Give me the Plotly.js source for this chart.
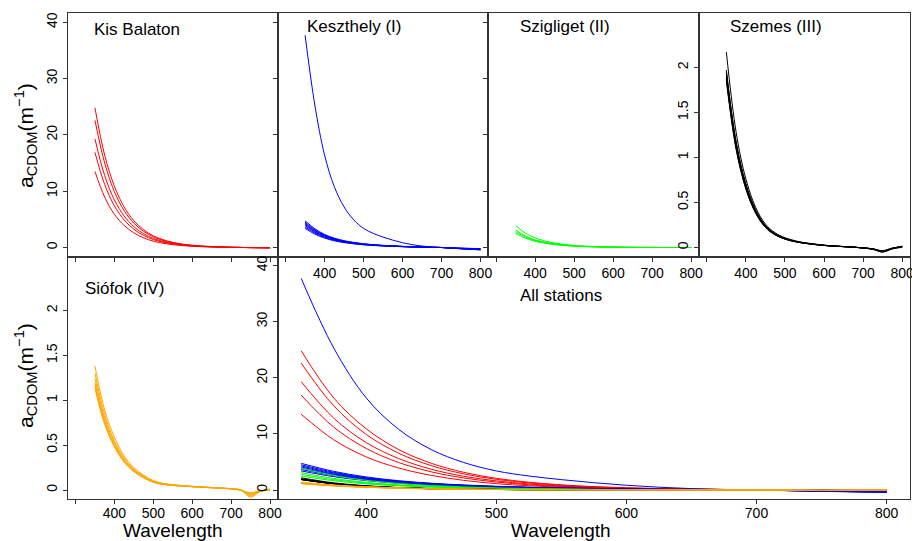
<!DOCTYPE html>
<html><head><meta charset="utf-8">
<script src="https://cdn.plot.ly/plotly-3.0.1.min.js"></script>
<style>html,body{margin:0;padding:0;background:#fff}#chart{width:912px;height:541px}</style>
</head><body><div id="chart"></div>
<script>
// Wavelength grid (nm)
const wavelength = [350,375,400,425,450,475,500,525,550,575,600,625,650,675,700,725,750,775,800];

// a_CDOM (m^-1) curves
const kisBalaton = [
  [24.8,16.4,10.9,7.2,4.76,3.15,2.08,1.39,0.92,0.6,0.4,0.26,0.17,0.1,0.05,0.02,-0.02,-0.05,-0.07],
  [22.6,15.0,9.9,6.55,4.34,2.87,1.9,1.26,0.84,0.55,0.36,0.23,0.15,0.09,0.04,0.01,-0.02,-0.05,-0.07],
  [19.3,12.8,8.45,5.6,3.7,2.45,1.62,1.08,0.71,0.47,0.31,0.2,0.13,0.08,0.04,0.01,-0.02,-0.04,-0.06],
  [16.9,11.2,7.4,4.9,3.24,2.15,1.42,0.94,0.63,0.41,0.27,0.18,0.11,0.07,0.03,0.01,-0.02,-0.04,-0.05],
  [13.5,8.95,5.9,3.92,2.6,1.72,1.13,0.75,0.5,0.33,0.22,0.14,0.09,0.05,0.02,0.0,-0.02,-0.03,-0.04]
];
const keszthely = [
  [37.7,25.3,16.4,10.8,7.2,4.9,3.4,2.5,1.85,1.3,0.85,0.5,0.25,0.1,0.0,-0.1,-0.2,-0.28,-0.35],
  [4.75,3.33,2.33,1.66,1.21,0.9,0.67,0.5,0.38,0.29,0.2,0.13,0.08,0.03,0.0,-0.12,-0.24,-0.33,-0.43],
  [4.5,3.15,2.2,1.58,1.15,0.86,0.63,0.47,0.36,0.27,0.19,0.13,0.07,0.03,0.0,-0.11,-0.22,-0.31,-0.4],
  [4.3,3.01,2.11,1.5,1.1,0.82,0.6,0.45,0.34,0.26,0.18,0.12,0.07,0.03,0.0,-0.1,-0.2,-0.29,-0.37],
  [4.1,2.87,2.01,1.44,1.05,0.78,0.57,0.43,0.33,0.25,0.17,0.11,0.07,0.03,0.0,-0.09,-0.17,-0.24,-0.31],
  [3.9,2.73,1.91,1.37,0.99,0.74,0.55,0.41,0.31,0.23,0.16,0.11,0.06,0.03,0.0,-0.08,-0.15,-0.22,-0.28],
  [3.65,2.56,1.79,1.28,0.93,0.69,0.51,0.38,0.29,0.22,0.15,0.1,0.06,0.03,0.0,-0.07,-0.13,-0.19,-0.24],
  [3.4,2.38,1.67,1.19,0.87,0.65,0.48,0.36,0.27,0.2,0.14,0.1,0.05,0.02,0.0,-0.06,-0.11,-0.16,-0.2]
];
const szigliget = [
  [3.9,2.57,1.72,1.17,0.8,0.55,0.37,0.25,0.18,0.12,0.08,0.05,0.03,0.02,0.01,0.0,0.0,0.0,0.0],
  [3.1,2.05,1.36,0.93,0.64,0.43,0.29,0.2,0.14,0.09,0.06,0.04,0.025,0.015,0.01,0.0,0.0,0.0,0.0],
  [2.8,1.85,1.23,0.84,0.57,0.39,0.27,0.18,0.13,0.08,0.06,0.04,0.02,0.01,0.01,0.0,0.0,0.0,0.0],
  [2.5,1.65,1.1,0.75,0.51,0.35,0.24,0.16,0.11,0.075,0.05,0.03,0.02,0.01,0.01,0.0,0.0,0.0,0.0]
];
const szemes = [
  [2.17,1.28,0.76,0.445,0.26,0.163,0.109,0.076,0.054,0.039,0.026,0.017,0.011,0.004,-0.005,-0.015,-0.04,-0.01,0.01],
  [1.97,1.16,0.69,0.4,0.236,0.148,0.099,0.069,0.049,0.035,0.024,0.016,0.01,0.004,-0.005,-0.02,-0.05,-0.015,0.01],
  [1.95,1.18,0.71,0.42,0.245,0.152,0.1,0.07,0.05,0.036,0.024,0.016,0.01,0.004,-0.005,-0.018,-0.05,-0.012,0.008],
  [1.93,1.14,0.675,0.396,0.232,0.145,0.097,0.068,0.048,0.035,0.023,0.015,0.01,0.004,-0.005,-0.015,-0.045,-0.01,0.015],
  [1.9,1.12,0.665,0.39,0.228,0.143,0.095,0.067,0.048,0.034,0.023,0.015,0.01,0.004,-0.005,-0.02,-0.04,-0.01,0.0],
  [1.88,1.14,0.69,0.41,0.24,0.15,0.1,0.07,0.05,0.036,0.024,0.016,0.01,0.004,-0.005,-0.015,-0.04,-0.01,0.01],
  [1.87,1.1,0.655,0.383,0.224,0.14,0.094,0.065,0.047,0.034,0.022,0.015,0.009,0.004,-0.005,-0.015,-0.035,-0.005,0.01],
  [1.85,1.09,0.648,0.38,0.222,0.139,0.093,0.065,0.046,0.033,0.022,0.015,0.009,0.004,-0.005,-0.02,-0.045,-0.015,0.005]
];
const siofok = [
  [1.38,0.89,0.59,0.38,0.25,0.165,0.105,0.075,0.06,0.05,0.042,0.035,0.029,0.023,0.016,0.002,-0.07,-0.015,0.01],
  [1.3,0.84,0.55,0.36,0.235,0.155,0.098,0.07,0.056,0.047,0.04,0.034,0.028,0.022,0.015,0.0,-0.05,-0.01,0.0],
  [1.24,0.8,0.53,0.34,0.225,0.15,0.094,0.068,0.054,0.046,0.039,0.033,0.027,0.021,0.014,0.0,-0.08,-0.015,0.01],
  [1.19,0.77,0.505,0.33,0.215,0.143,0.09,0.065,0.052,0.045,0.038,0.032,0.026,0.02,0.013,0.0,-0.04,-0.005,0.0],
  [1.16,0.75,0.49,0.32,0.21,0.14,0.088,0.064,0.051,0.044,0.037,0.031,0.025,0.02,0.013,-0.005,-0.06,-0.01,0.005],
  [1.13,0.73,0.48,0.31,0.205,0.136,0.086,0.062,0.05,0.043,0.036,0.03,0.025,0.019,0.012,0.0,-0.03,-0.005,0.0]
];

const stationNames = ['Kis Balaton','Keszthely (I)','Szigliget (II)','Szemes (III)','Siófok (IV)','All stations'];
const stationColors = ['#FF0000','#0000FF','#00FF00','#000000','#FFA500'];
const xTicks = [400,500,600,700,800];
const xMinorTicks = [300];
const yTicksBig = [0,10,20,30,40];
const yTicksSmall = [0,0.5,1,1.5,2];
const yTickTextSmall = ['0','0.5','1','1.5','2'];
const yTitleText = 'a<sub>CDOM</sub>(m<sup>−1</sup>)';
const xTitleText = 'Wavelength';

const stations = [kisBalaton, keszthely, szigliget, szemes, siofok];
const traces = [];
const axisPairs = [['x','y'],['x2','y2'],['x3','y3'],['x4','y4'],['x5','y5']];
stations.forEach((curves, si) => {
  curves.forEach(c => traces.push({type:'scatter', mode:'lines', x: wavelength, y: c,
    xaxis: axisPairs[si][0], yaxis: axisPairs[si][1],
    line:{color: stationColors[si], width:1, shape:'spline', smoothing:1}, hoverinfo:'skip', showlegend:false}));
});
stations.forEach((curves, si) => {
  curves.forEach(c => traces.push({type:'scatter', mode:'lines', x: wavelength, y: c,
    xaxis:'x6', yaxis:'y6',
    line:{color: stationColors[si], width:1, shape:'spline', smoothing:1}, hoverinfo:'skip', showlegend:false}));
});

const W = 912, H = 541;
const XB = [67.7, 277.8, 488.3, 699, 910].map(v => v / W);
const yTop = 1 - 13.3 / H, yMid = 1 - 256.5 / H, yBot = 1 - 499 / H;
const FONT = 'Liberation Sans, Arial, sans-serif';

function ax(extra) {
  return Object.assign({showline:true, linecolor:'#333', linewidth:1, mirror:true,
    ticks:'outside', ticklen:4, tickwidth:1, tickcolor:'#333', showgrid:false, zeroline:false,
    tickfont:{size:14, color:'#000', family:FONT}, fixedrange:true, automargin:false,
    ticklabeloverflow:'allow'}, extra);
}
const minor300 = {tickmode:'array', tickvals:xMinorTicks, ticks:'outside', ticklen:4, tickwidth:1, tickcolor:'#333', showgrid:false};

const layout = {
  width: W, height: H, margin:{l:0,r:0,t:0,b:0}, paper_bgcolor:'#fff', plot_bgcolor:'#fff',
  font:{family:FONT, color:'#000'}, showlegend:false,
  xaxis:  ax({domain:[XB[0],XB[1]], anchor:'y',  range:[280,820], tickmode:'array', tickvals:xTicks, minor:minor300, showticklabels:false}),
  xaxis2: ax({domain:[XB[1],XB[2]], anchor:'y2', range:[280,820], tickmode:'array', tickvals:xTicks, minor:minor300, tickangle:0}),
  xaxis3: ax({domain:[XB[2],XB[3]], anchor:'y3', range:[280,820], tickmode:'array', tickvals:xTicks, minor:minor300, tickangle:0}),
  xaxis4: ax({domain:[XB[3],XB[4]], anchor:'y4', range:[280,820], tickmode:'array', tickvals:xTicks, minor:minor300, tickangle:0}),
  xaxis5: ax({domain:[XB[0],XB[1]], anchor:'y5', range:[280,820], tickmode:'array', tickvals:xTicks, minor:minor300, tickangle:0, ticklabelstandoff:-3}),
  xaxis6: ax({domain:[XB[1],XB[4]], anchor:'y6', range:[332,818], tickmode:'array', tickvals:xTicks, tickangle:0, ticklabelstandoff:-3}),
  yaxis:  ax({domain:[yMid,yTop], anchor:'x',  range:[-1.6,41.6], tickmode:'array', tickvals:yTicksBig, tickangle:-90}),
  yaxis2: ax({domain:[yMid,yTop], anchor:'x2', range:[-1.6,41.6], tickmode:'array', tickvals:yTicksBig, showticklabels:false}),
  yaxis3: ax({domain:[yMid,yTop], anchor:'x3', range:[-1.6,41.6], tickmode:'array', tickvals:yTicksBig, showticklabels:false}),
  yaxis4: ax({domain:[yMid,yTop], anchor:'x4', range:[-0.1,2.6], tickmode:'array', tickvals:yTicksSmall, ticktext:yTickTextSmall, tickangle:-90}),
  yaxis5: ax({domain:[yBot,yMid], anchor:'x5', range:[-0.1,2.6], tickmode:'array', tickvals:yTicksSmall, ticktext:yTickTextSmall, tickangle:-90}),
  yaxis6: ax({domain:[yBot,yMid], anchor:'x6', range:[-1.6,41.6], tickmode:'array', tickvals:yTicksBig, tickangle:-90}),
  annotations: []
};

const labelPos = [[92,29],[305,27],[518,27],[727.7,27],[83,288],[518,295]];
stationNames.forEach((n, i) => {
  layout.annotations.push({text:n, xref:'paper', yref:'paper', x: labelPos[i][0]/W, y: 1 - labelPos[i][1]/H,
    xanchor:'left', yanchor:'middle', showarrow:false, font:{size:17, color:'#000', family:FONT}});
});
[[172.7,530],[561,530]].forEach(p => layout.annotations.push({text:xTitleText, xref:'paper', yref:'paper',
  x:p[0]/W, y:1-p[1]/H, xanchor:'center', yanchor:'middle', showarrow:false,
  font:{size:19, color:'#000', family:FONT}}));
[[25,136],[25,376]].forEach(p => layout.annotations.push({text:yTitleText, xref:'paper', yref:'paper',
  x:p[0]/W, y:1-p[1]/H, xanchor:'center', yanchor:'middle', textangle:-90, showarrow:false,
  font:{size:21, color:'#000', family:FONT}}));

Plotly.newPlot('chart', traces, layout, {staticPlot:true, displayModeBar:false});
</script></body></html>
